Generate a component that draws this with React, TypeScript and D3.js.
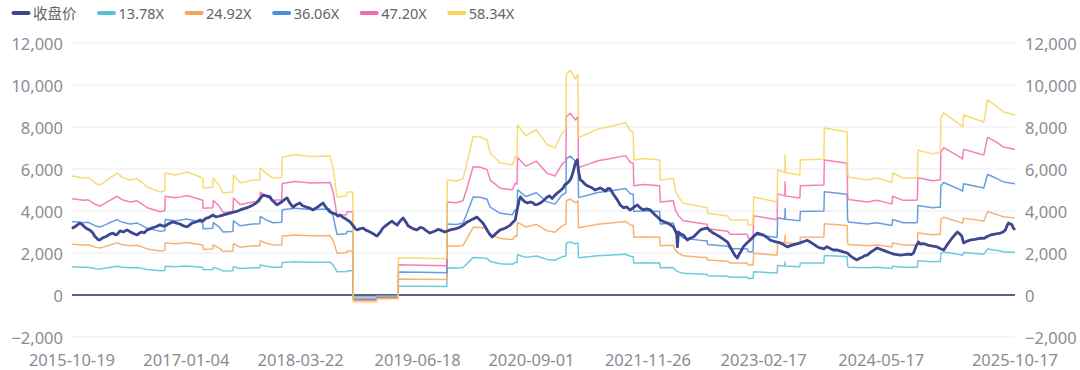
import React, { useEffect, useRef } from "react";
import * as d3 from "d3";

// ---------- data ----------
const seriesNames = ["收盘价", "13.78X", "24.92X", "36.06X", "47.20X", "58.34X"];
const peMultiples = [13.78, 24.92, 36.06, 47.2, 58.34];
const seriesColors = ["#3d4791", "#56c1d6", "#f7a45c", "#4b8ddb", "#f46aae", "#f8d55a"];

const xTickLabels = [
  "2015-10-19", "2017-01-04", "2018-03-22", "2019-06-18", "2020-09-01",
  "2021-11-26", "2023-02-17", "2024-05-17", "2025-10-17",
];
const yTicks = [-2000, 0, 2000, 4000, 6000, 8000, 10000, 12000];

// closing price
const closePrice: [string, number][] = [
  ["2015-10-19", 3160], ["2015-10-25", 3220], ["2015-10-30", 3250], ["2015-11-08", 3330],
  ["2015-11-19", 3430], ["2015-11-26", 3360], ["2015-12-02", 3300], ["2015-12-09", 3220],
  ["2015-12-16", 3150], ["2015-12-28", 3080], ["2016-01-08", 2950], ["2016-01-15", 2800],
  ["2016-01-23", 2700], ["2016-01-29", 2640], ["2016-02-04", 2620], ["2016-02-12", 2700],
  ["2016-02-20", 2750], ["2016-03-01", 2800], ["2016-03-14", 2900], ["2016-03-26", 2950],
  ["2016-04-03", 2870], ["2016-04-10", 2880], ["2016-04-22", 3050], ["2016-05-05", 3000],
  ["2016-05-19", 3100], ["2016-06-05", 2980], ["2016-06-15", 2920], ["2016-06-27", 2860],
  ["2016-07-06", 2950], ["2016-07-15", 3000], ["2016-07-25", 2960], ["2016-08-05", 3100],
  ["2016-08-16", 3150], ["2016-08-25", 3200], ["2016-09-08", 3250], ["2016-09-24", 3350],
  ["2016-10-05", 3280], ["2016-10-15", 3300], ["2016-10-28", 3400], ["2016-11-13", 3480],
  ["2016-11-28", 3420], ["2016-12-10", 3380], ["2016-12-22", 3300], ["2017-01-06", 3240],
  ["2017-01-16", 3330], ["2017-01-25", 3420], ["2017-02-10", 3480], ["2017-02-26", 3570],
  ["2017-03-08", 3520], ["2017-03-20", 3650], ["2017-04-02", 3700], ["2017-04-17", 3810],
  ["2017-04-28", 3720], ["2017-05-10", 3750], ["2017-05-25", 3800], ["2017-06-11", 3860],
  ["2017-06-22", 3900], ["2017-07-05", 3950], ["2017-07-18", 3980], ["2017-07-31", 4050],
  ["2017-08-12", 4100], ["2017-08-25", 4150], ["2017-09-05", 4200], ["2017-09-19", 4290],
  ["2017-10-01", 4380], ["2017-10-10", 4500], ["2017-10-20", 4650], ["2017-10-28", 4760],
  ["2017-11-10", 4720], ["2017-11-24", 4670], ["2017-12-01", 4520], ["2017-12-08", 4450],
  ["2017-12-21", 4290], ["2018-01-01", 4380], ["2018-01-10", 4450], ["2018-01-20", 4560],
  ["2018-01-29", 4620], ["2018-02-05", 4450], ["2018-02-10", 4350], ["2018-02-21", 4190],
  ["2018-03-05", 4300], ["2018-03-19", 4380], ["2018-03-30", 4250], ["2018-04-10", 4200],
  ["2018-04-25", 4150], ["2018-05-09", 4050], ["2018-05-18", 4120], ["2018-05-28", 4200],
  ["2018-06-08", 4300], ["2018-06-17", 4380], ["2018-06-24", 4250], ["2018-06-30", 4150],
  ["2018-07-07", 4050], ["2018-07-14", 3950], ["2018-07-25", 3900], ["2018-08-05", 3850],
  ["2018-08-14", 3760], ["2018-08-22", 3810], ["2018-09-01", 3700], ["2018-09-10", 3650],
  ["2018-09-20", 3560], ["2018-09-30", 3480], ["2018-10-08", 3350], ["2018-10-15", 3250],
  ["2018-10-20", 3150], ["2018-10-27", 3100], ["2018-11-06", 3150], ["2018-11-19", 3190],
  ["2018-12-01", 3080], ["2018-12-08", 3050], ["2018-12-16", 3000], ["2018-12-28", 2920],
  ["2019-01-05", 2850], ["2019-01-12", 2810], ["2019-01-25", 3000], ["2019-02-04", 3190],
  ["2019-02-15", 3300], ["2019-02-25", 3400], ["2019-03-11", 3520], ["2019-03-20", 3420],
  ["2019-03-31", 3330], ["2019-04-10", 3500], ["2019-04-23", 3670], ["2019-05-05", 3450],
  ["2019-05-12", 3300], ["2019-05-20", 3240], ["2019-06-02", 3150], ["2019-06-16", 3100],
  ["2019-06-28", 3220], ["2019-07-09", 3190], ["2019-07-20", 3080], ["2019-08-05", 2950],
  ["2019-08-15", 3000], ["2019-08-25", 3050], ["2019-09-05", 3120], ["2019-09-13", 3100],
  ["2019-10-01", 3000], ["2019-10-12", 3050], ["2019-10-22", 3100], ["2019-11-10", 3150],
  ["2019-11-20", 3180], ["2019-11-30", 3240], ["2019-12-12", 3330], ["2019-12-27", 3480],
  ["2020-01-08", 3550], ["2020-01-15", 3600], ["2020-01-25", 3650], ["2020-02-03", 3710],
  ["2020-02-12", 3600], ["2020-02-26", 3430], ["2020-03-08", 3200], ["2020-03-15", 3050],
  ["2020-03-24", 2880], ["2020-04-02", 2760], ["2020-04-10", 2850], ["2020-04-18", 2950],
  ["2020-05-03", 3100], ["2020-05-15", 3150], ["2020-05-25", 3200], ["2020-06-05", 3280],
  ["2020-06-11", 3330], ["2020-06-20", 3450], ["2020-06-30", 3570], ["2020-07-05", 3900],
  ["2020-07-10", 4200], ["2020-07-15", 4500], ["2020-07-20", 4670], ["2020-07-28", 4550],
  ["2020-08-05", 4450], ["2020-08-16", 4380], ["2020-08-27", 4430], ["2020-09-05", 4400],
  ["2020-09-15", 4300], ["2020-09-25", 4320], ["2020-10-05", 4380], ["2020-10-18", 4500],
  ["2020-11-01", 4670], ["2020-11-10", 4720], ["2020-11-20", 4600], ["2020-12-01", 4750],
  ["2020-12-10", 4860], ["2020-12-20", 4950], ["2021-01-02", 5100], ["2021-01-08", 5250],
  ["2021-01-15", 5300], ["2021-01-22", 5380], ["2021-01-29", 5480], ["2021-02-04", 5650],
  ["2021-02-10", 5900], ["2021-02-18", 6290], ["2021-02-25", 6430], ["2021-03-02", 5900],
  ["2021-03-09", 5480], ["2021-03-17", 5420], ["2021-03-25", 5300], ["2021-04-05", 5200],
  ["2021-04-17", 5140], ["2021-04-26", 5080], ["2021-05-05", 5000], ["2021-05-15", 5050],
  ["2021-05-26", 5100], ["2021-06-05", 5020], ["2021-06-15", 4950], ["2021-06-25", 5080],
  ["2021-07-03", 5050], ["2021-07-15", 4800], ["2021-07-31", 4520], ["2021-08-10", 4300],
  ["2021-08-23", 4150], ["2021-09-05", 4200], ["2021-09-12", 4100], ["2021-09-19", 4050],
  ["2021-10-02", 4180], ["2021-10-16", 4290], ["2021-10-27", 4150], ["2021-11-08", 4050],
  ["2021-11-20", 4100], ["2021-12-05", 4050], ["2021-12-15", 3920], ["2021-12-25", 3800],
  ["2022-01-05", 3680], ["2022-01-13", 3570], ["2022-01-25", 3500], ["2022-02-09", 3430],
  ["2022-02-20", 3350], ["2022-03-04", 3240], ["2022-03-12", 3050], ["2022-03-17", 2900],
  ["2022-03-20", 2290], ["2022-03-24", 3000], ["2022-04-02", 2900], ["2022-04-12", 2850],
  ["2022-04-27", 2620], ["2022-05-08", 2700], ["2022-05-21", 2760], ["2022-06-05", 2950],
  ["2022-06-17", 3100], ["2022-06-28", 3150], ["2022-07-14", 3190], ["2022-07-25", 3050],
  ["2022-08-06", 2950], ["2022-08-20", 2850], ["2022-09-02", 2760], ["2022-09-15", 2650],
  ["2022-09-30", 2520], ["2022-10-12", 2250], ["2022-10-23", 2000], ["2022-10-31", 1850],
  ["2022-11-07", 1760], ["2022-11-14", 1950], ["2022-11-20", 2050], ["2022-11-30", 2290],
  ["2022-12-12", 2450], ["2022-12-27", 2620], ["2023-01-10", 2800], ["2023-01-23", 2950],
  ["2023-02-05", 2900], ["2023-02-15", 2860], ["2023-03-01", 2750], ["2023-03-14", 2620],
  ["2023-03-30", 2550], ["2023-04-10", 2520], ["2023-04-22", 2480], ["2023-05-05", 2400],
  ["2023-05-19", 2290], ["2023-06-01", 2350], ["2023-06-15", 2400], ["2023-06-28", 2450],
  ["2023-07-08", 2480], ["2023-07-25", 2560], ["2023-08-05", 2600], ["2023-08-16", 2520],
  ["2023-09-01", 2400], ["2023-09-12", 2300], ["2023-09-24", 2240], ["2023-10-08", 2200],
  ["2023-10-20", 2300], ["2023-11-01", 2220], ["2023-11-13", 2140], ["2023-11-25", 2150],
  ["2023-12-10", 2100], ["2023-12-22", 2050], ["2024-01-07", 2000], ["2024-01-20", 1850],
  ["2024-02-05", 1720], ["2024-02-14", 1670], ["2024-02-25", 1760], ["2024-03-05", 1800],
  ["2024-03-14", 1880], ["2024-03-24", 1900], ["2024-04-08", 2050], ["2024-04-20", 2150],
  ["2024-05-01", 2240], ["2024-05-10", 2200], ["2024-05-20", 2150], ["2024-06-01", 2100],
  ["2024-06-10", 2050], ["2024-06-22", 2000], ["2024-07-05", 1950], ["2024-07-18", 1920],
  ["2024-07-30", 1900], ["2024-08-15", 1920], ["2024-08-30", 1950], ["2024-09-10", 1920],
  ["2024-09-19", 2000], ["2024-09-30", 2350], ["2024-10-08", 2520], ["2024-10-16", 2420],
  ["2024-10-25", 2450], ["2024-11-05", 2420], ["2024-11-12", 2380], ["2024-11-28", 2340],
  ["2024-12-10", 2320], ["2024-12-20", 2290], ["2025-01-02", 2200], ["2025-01-14", 2140],
  ["2025-01-25", 2350], ["2025-02-10", 2620], ["2025-02-22", 2800], ["2025-03-08", 3000],
  ["2025-03-18", 2900], ["2025-03-25", 2800], ["2025-04-01", 2480], ["2025-04-08", 2520],
  ["2025-04-18", 2580], ["2025-04-28", 2620], ["2025-05-15", 2650], ["2025-06-06", 2710],
  ["2025-06-20", 2700], ["2025-07-03", 2800], ["2025-07-15", 2860], ["2025-07-30", 2900],
  ["2025-08-10", 2920], ["2025-08-22", 2950], ["2025-09-01", 3000], ["2025-09-10", 3100],
  ["2025-09-16", 3300], ["2025-09-22", 3430], ["2025-09-28", 3380], ["2025-10-05", 3350],
  ["2025-10-10", 3200], ["2025-10-17", 3100],
];

// earnings per share (1x band); each PE band = eps * multiple
const epsBase: [string, number][] = [
  ["2015-10-19", 97.2], ["2015-11-05", 96.5], ["2015-12-01", 95.5], ["2015-12-20", 96],
  ["2016-01-20", 91], ["2016-02-04", 89.8], ["2016-02-20", 92], ["2016-03-10", 95],
  ["2016-04-11", 99.6], ["2016-05-01", 96], ["2016-05-31", 93.9], ["2016-06-27", 95],
  ["2016-07-15", 92], ["2016-08-05", 88.1], ["2016-09-01", 86], ["2016-09-24", 84.0],
  ["2016-10-12", 85], ["2016-10-14", 99.6], ["2016-11-20", 98], ["2016-12-15", 99],
  ["2017-01-06", 100.4], ["2017-02-26", 96.3], ["2017-03-08", 95.5], ["2017-03-10", 87.4],
  ["2017-04-16", 88], ["2017-04-18", 95.5], ["2017-05-10", 90], ["2017-05-26", 83.3],
  ["2017-07-03", 84], ["2017-07-05", 97.9], ["2017-07-31", 91.4], ["2017-09-19", 93.9],
  ["2017-10-15", 94], ["2017-10-17", 103.7], ["2017-11-10", 99], ["2017-12-06", 95.5],
  ["2018-01-08", 96], ["2018-01-10", 112.6], ["2018-03-01", 114.5], ["2018-05-01", 113],
  ["2018-07-14", 113.5], ["2018-07-26", 104], ["2018-08-10", 80], ["2018-09-16", 81],
  ["2018-09-18", 84], ["2018-10-10", 84], ["2018-10-12", -5.66], ["2019-01-10", -5.66],
  ["2019-01-12", -3.3], ["2019-04-03", -3.3], ["2019-04-05", 30.5], ["2019-07-01", 30],
  ["2019-10-09", 29.5], ["2019-10-11", 93.9], ["2019-11-15", 93], ["2019-12-11", 95],
  ["2019-12-27", 108.5], ["2020-01-19", 129.4], ["2020-02-15", 129], ["2020-03-13", 126.5],
  ["2020-03-25", 115.9], ["2020-05-03", 107.8], ["2020-06-19", 106.1], ["2020-06-30", 112.6],
  ["2020-07-07", 112], ["2020-07-09", 138.8], ["2020-08-10", 130], ["2020-09-20", 135],
  ["2020-10-30", 123], ["2020-12-01", 120], ["2020-12-28", 132], ["2021-01-12", 135],
  ["2021-01-14", 180], ["2021-01-29", 183.4], ["2021-02-18", 176.5], ["2021-02-28", 180],
  ["2021-03-02", 128.6], ["2021-04-10", 132], ["2021-05-15", 135.4], ["2021-06-25", 137.1],
  ["2021-08-31", 140.6], ["2021-09-19", 133.7], ["2021-09-30", 133], ["2021-10-02", 110.2],
  ["2021-11-08", 111.4], ["2022-01-10", 110.2], ["2022-01-13", 93.9], ["2022-03-04", 95.1],
  ["2022-03-12", 85.7], ["2022-03-24", 80], ["2022-04-12", 75], ["2022-06-28", 71.8],
  ["2022-07-13", 71.5], ["2022-07-15", 66.8], ["2022-09-30", 64.4], ["2022-10-11", 61.2],
  ["2022-12-16", 61.2], ["2022-12-19", 57.1], ["2023-01-07", 57.1], ["2023-01-09", 80],
  ["2023-04-10", 75.9], ["2023-04-12", 102], ["2023-05-10", 100], ["2023-05-11", 114.3],
  ["2023-05-12", 100], ["2023-07-07", 97.9], ["2023-07-09", 110.2], ["2023-10-08", 111],
  ["2023-10-10", 136.3], ["2024-01-06", 133], ["2024-01-08", 99.6], ["2024-01-11", 96.3],
  ["2024-03-24", 93.9], ["2024-05-01", 95.5], ["2024-06-21", 92.2], ["2024-06-28", 92],
  ["2024-06-30", 99.6], ["2024-08-10", 95.5], ["2024-09-27", 95.5], ["2024-10-04", 96],
  ["2024-10-06", 118.3], ["2024-12-01", 115.2], ["2024-12-24", 115.9], ["2025-01-01", 116],
  ["2025-01-03", 144.5], ["2025-01-14", 148.6], ["2025-03-20", 138.8], ["2025-03-28", 137.1],
  ["2025-04-01", 146.9], ["2025-06-18", 141.2], ["2025-07-03", 159.2], ["2025-07-15", 157.5],
  ["2025-08-10", 153.4], ["2025-09-03", 149.3], ["2025-10-17", 146.9],
];

// ---------- chart ----------
const W = 1080;
const H = 370;
const FONT = "'Noto Sans', 'Noto Sans CJK SC', sans-serif";
const parse = d3.timeParse("%Y-%m-%d");

export default function App() {
  const legendRef = useRef<SVGGElement>(null);

  const x = d3
    .scaleTime()
    .domain([parse("2015-10-19") as Date, parse("2025-10-17") as Date])
    .range([72, 1015]);
  const y = d3.scaleLinear().domain([-2000, 12000]).range([337, 43]);

  const line = d3
    .line<[Date, number]>()
    .x((d) => x(d[0]))
    .y((d) => y(d[1]));

  const pricePts: [Date, number][] = closePrice.map((d) => [parse(d[0]) as Date, d[1]]);
  const bands = peMultiples.map((m) =>
    epsBase.map((d) => [parse(d[0]) as Date, d[1] * m] as [Date, number])
  );

  useEffect(() => {
    const g = d3.select(legendRef.current);
    g.selectAll("*").remove();
    let cx = 12;
    seriesNames.forEach((name, i) => {
      g.append("line")
        .attr("x1", cx + 1.5)
        .attr("x2", cx + 16.5)
        .attr("y1", 13)
        .attr("y2", 13)
        .attr("stroke", seriesColors[i])
        .attr("stroke-width", 4)
        .attr("stroke-linecap", "round");
      const t = g
        .append("text")
        .attr("x", cx + 21)
        .attr("y", 13)
        .attr("dominant-baseline", "central")
        .attr("font-family", FONT)
        .attr("font-size", 14.5)
        .attr("fill", "#60646e")
        .text(name);
      const w = (t.node() as SVGTextElement).getComputedTextLength();
      cx = cx + 21 + w + 21;
    });
  }, []);

  return (
    <svg
      width={W}
      height={H}
      style={{ position: "absolute", left: 0, top: 0, background: "#fff" }}
    >
      {/* grid */}
      {yTicks
        .filter((t) => t !== 0)
        .map((t) => (
          <line key={"g" + t} x1={72} x2={1015} y1={y(t)} y2={y(t)} stroke="#e9ebf3" strokeWidth={1} />
        ))}
      {/* zero axis line */}
      <line x1={72} x2={1015} y1={y(0)} y2={y(0)} stroke="#5b6290" strokeWidth={2} />
      {/* y labels */}
      {yTicks.map((t) => (
        <g key={"yl" + t} fontFamily={FONT} fontSize={16.5} fill="#8a8c93">
          <text x={63} y={y(t)} textAnchor="end" dominantBaseline="central">
            {d3.format(",")(t)}
          </text>
          <text x={1025} y={y(t)} textAnchor="start" dominantBaseline="central">
            {d3.format(",")(t)}
          </text>
        </g>
      ))}
      {/* x labels */}
      {xTickLabels.map((s) => (
        <text
          key={"xl" + s}
          x={x(parse(s) as Date)}
          y={359}
          textAnchor="middle"
          dominantBaseline="central"
          fontFamily={FONT}
          fontSize={16.5}
          fill="#8a8c93"
        >
          {s}
        </text>
      ))}
      {/* bands */}
      {bands.map((b, i) => (
        <path
          key={"b" + i}
          d={line(b) || ""}
          fill="none"
          stroke={seriesColors[i + 1]}
          strokeWidth={1.5}
          strokeOpacity={0.85}
          strokeLinejoin="round"
        />
      ))}
      {/* price */}
      <path
        d={line(pricePts) || ""}
        fill="none"
        stroke={seriesColors[0]}
        strokeWidth={2.8}
        strokeLinejoin="round"
      />
      <g ref={legendRef} />
    </svg>
  );
}
